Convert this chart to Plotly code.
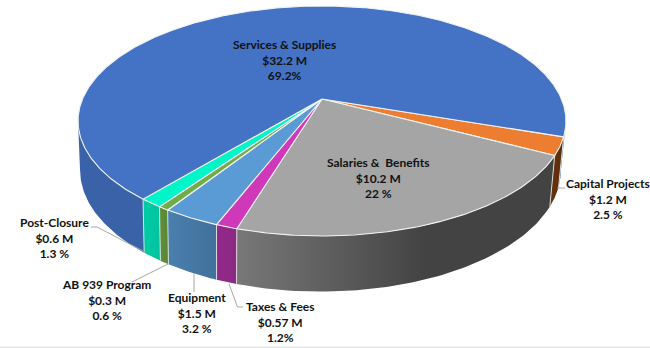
import numpy as np
import plotly.graph_objects as go

# Budget breakdown, clockwise from the Capital Projects slice
categories = ["Capital Projects", "Salaries &  Benefits", "Taxes & Fees", "Equipment",
              "AB 939 Program", "Post-Closure", "Services & Supplies"]
amounts = ["$1.2 M", "$10.2 M", "$0.57 M", "$1.5 M", "$0.3 M", "$0.6 M", "$32.2 M"]
share_labels = ["2.5 %", "22 %", "1.2%", "3.2 %", "0.6 %", "1.3 %", "69.2%"]
shares = [2.5, 22.0, 1.2, 3.2, 0.6, 1.3, 69.2]

top_colors = ["#ED7D31", "#A5A5A5", "#D038BA", "#5B9BD5", "#70AD47", "#00F5C8", "#4472C4"]
wall_left = ["#6B3410", "#787878", "#92288A", "#4A7FAE", "#5F8F3B", "#00CCA6", "#3A62A8"]
wall_right = ["#5A2C0C", "#434343", "#8A2A80", "#41709B", "#5A8738", "#00C4A0", "#3A62A8"]
gradient_span = [(545, 565), (237, 425), (217, 237), (168, 217), (159, 168), (143, 159), (78, 143)]

label_centers = [(608, 199.2), (378, 178.2), (280, 322.2), (197, 313.2), (106, 300.2), (54, 238.2), (284, 60)]
leader_paths = [
    [(565, 188)],
    [],
    [(237.5, 307), (243, 307)],
    [(194, 292)],
    [(132, 282)],
    [(97, 227), (91, 227)],
    [],
]
leader_anchor = [(557, 188), None, (229, 284), (194, 273), (168, 264), (145, 252), None]

# Perspective disc: the hub sits above the centre of the projected ellipse
TILT = 0.191
START_ANGLE = 18.7
HUB_X, HUB_Y = 322.0, 99.0
TOP_A, TOP_B = 239.5, 110.8
BASE_X, BASE_Y = 320.5, 147.0
BASE_A, BASE_B = 236.0, 117.0
FRONT_FROM, FRONT_TO = 11.0, 169.0


def rim(t_deg, cx, cy, a, b):
    t = np.radians(t_deg)
    d = 1 - TILT * np.sin(t)
    return cx + a * np.cos(t) / d, cy + b * np.sin(t) / d


def top_rim(t_deg):
    return rim(t_deg, HUB_X, HUB_Y, TOP_A, TOP_B)


def base_rim(t_deg):
    return rim(t_deg, BASE_X, BASE_Y, BASE_A, BASE_B)


bounds = START_ANGLE + np.concatenate([[0], np.cumsum(shares)]) * 3.6

fig = go.Figure()

# Side walls first, so the top face overlaps their upper edge
for i, _ in enumerate(categories):
    for turn in (0, 360):
        lo = max(bounds[i], FRONT_FROM + turn)
        hi = min(bounds[i + 1], FRONT_TO + turn)
        if lo >= hi:
            continue
        ts = np.linspace(lo, hi, 80)
        tx, ty = top_rim(ts)
        bx, by = base_rim(ts[::-1])
        fig.add_trace(go.Scatter(
            x=np.concatenate([tx, bx]), y=np.concatenate([ty, by]),
            mode="lines", line=dict(width=0), fill="toself",
            fillgradient=dict(type="horizontal",
                              colorscale=[[0, wall_left[i]], [1, wall_right[i]]],
                              start=gradient_span[i][0], stop=gradient_span[i][1]),
            hoverinfo="skip"))

# Light seams between neighbouring wall panels
for b in bounds[:-1]:
    b_front = b
    if FRONT_FROM <= b_front <= FRONT_TO:
        x0, y0 = top_rim(b_front)
        x1, y1 = base_rim(b_front)
        fig.add_trace(go.Scatter(x=[x0, x1], y=[y0, y1], mode="lines",
                                 line=dict(color="rgba(235,235,235,0.85)", width=1),
                                 hoverinfo="skip"))

# Top face of the disc
for i, _ in enumerate(categories):
    ts = np.linspace(bounds[i], bounds[i + 1], max(4, int((bounds[i + 1] - bounds[i]) * 2)))
    x, y = top_rim(ts)
    fig.add_trace(go.Scatter(
        x=np.concatenate([[HUB_X], x, [HUB_X]]), y=np.concatenate([[HUB_Y], y, [HUB_Y]]),
        mode="lines", line=dict(color="#F2F2F2", width=1.1), fill="toself",
        fillcolor=top_colors[i], hoverinfo="skip"))

# Leader lines from the lower rim out to the labels
for anchor, path in zip(leader_anchor, leader_paths):
    if anchor is None:
        continue
    pts = [anchor] + path
    fig.add_trace(go.Scatter(x=[p[0] for p in pts], y=[p[1] for p in pts], mode="lines",
                             line=dict(color="#A6A6A6", width=1), hoverinfo="skip"))

annotations = [
    dict(x=cx, y=cy, xref="x", yref="y", showarrow=False, align="center",
         xanchor="center", yanchor="middle",
         text=f"<b>{name.replace('  ', ' &nbsp;')}<br>{amount}<br>{share}</b>",
         font=dict(family="Lato", size=12, color="#111111"))
    for name, amount, share, (cx, cy) in zip(categories, amounts, share_labels, label_centers)
]

fig.update_layout(
    width=650, height=348, margin=dict(l=0, r=0, t=0, b=0),
    paper_bgcolor="white", plot_bgcolor="white", showlegend=False,
    xaxis=dict(range=[0, 650], visible=False, fixedrange=True),
    yaxis=dict(range=[348, 0], visible=False, fixedrange=True),
    annotations=annotations,
    shapes=[dict(type="rect", xref="x", yref="y", x0=0, x1=650, y0=346.5, y1=348,
                 fillcolor="#E6E6E6", line=dict(width=0), layer="below")],
)

fig.write_html("out.html", config=dict(displayModeBar=False))
